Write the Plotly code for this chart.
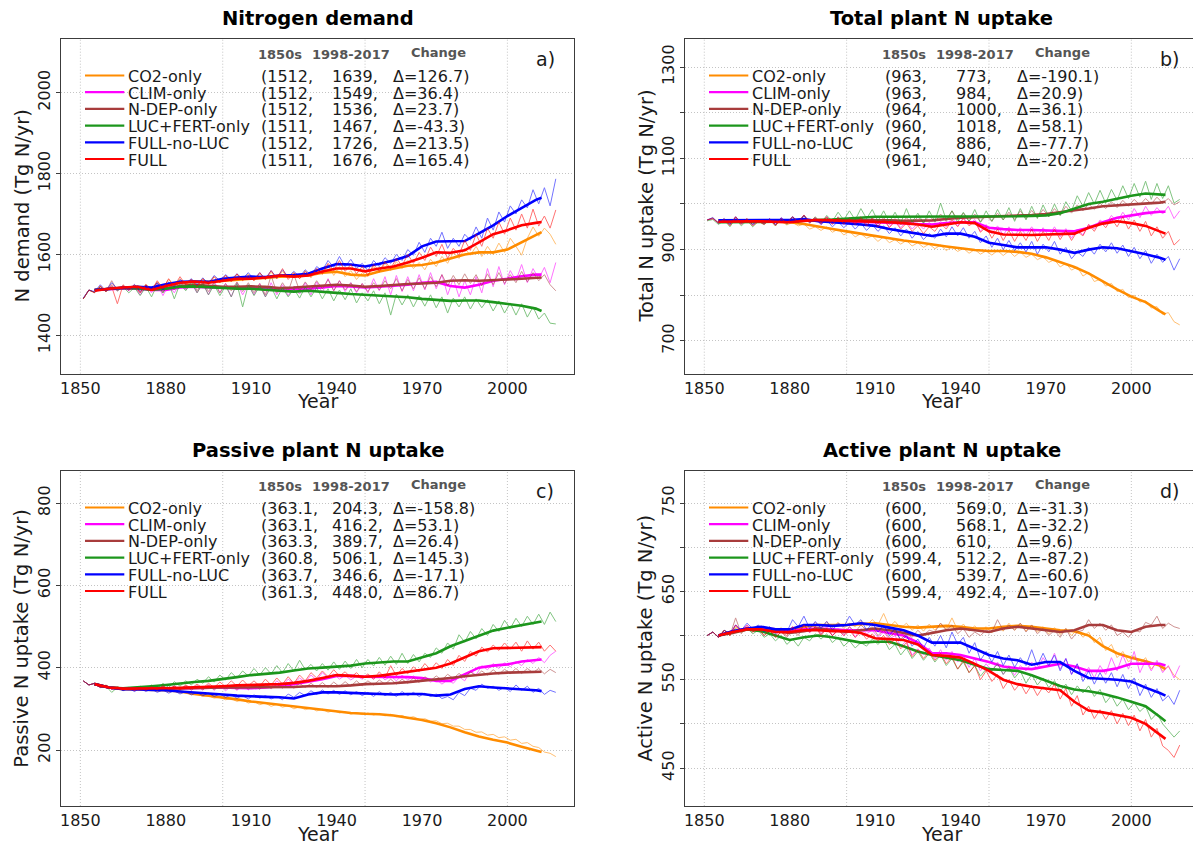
import plotly.graph_objects as go

# ---------------- data ----------------
SERIES = ["CO2-only", "CLIM-only", "N-DEP-only", "LUC+FERT-only", "FULL-no-LUC", "FULL"]
COLORS = ["#ff8c00", "#ff00ff", "#a83c3c", "#1c961c", "#0000ff", "#ff0000"]

THIN_YEARS = list(range(1851, 2018, 2))
SMOOTH_YEARS = list(range(1855, 2011, 5)) + [2012]
X_TICKS = [1850, 1880, 1910, 1940, 1970, 2000]
GRID_YEARS = [1850, 1900, 1950, 2000]

TITLES = ["Nitrogen demand", "Total plant N uptake", "Passive plant N uptake", "Active plant N uptake"]
YTITLES = ["N demand (Tg N/yr)", "Total N uptake (Tg N/yr)", "Passive N uptake (Tg N/yr)", "Active N uptake (Tg N/yr)"]
LABELS = ["a)", "b)", "c)", "d)"]
HEADERS = ["1850s", "1998-2017", "Change"]

# legend table values
a_1850s = ["1512", "1512", "1512", "1511", "1512", "1511"]
a_recent = ["1639", "1549", "1536", "1467", "1726", "1676"]
a_change = ["126.7", "36.4", "23.7", "-43.3", "213.5", "165.4"]
b_1850s = ["963", "963", "964", "960", "964", "961"]
b_recent = ["773", "984", "1000", "1018", "886", "940"]
b_change = ["-190.1", "20.9", "36.1", "58.1", "-77.7", "-20.2"]
c_1850s = ["363.1", "363.1", "363.3", "360.8", "363.7", "361.3"]
c_recent = ["204.3", "416.2", "389.7", "506.1", "346.6", "448.0"]
c_change = ["-158.8", "53.1", "26.4", "145.3", "-17.1", "86.7"]
d_1850s = ["600", "600", "600", "599.4", "600", "599.4"]
d_recent = ["569.0", "568.1", "610", "512.2", "539.7", "492.4"]
d_change = ["-31.3", "-32.2", "9.6", "-87.2", "-60.6", "-107.0"]

# ----- panel a: nitrogen demand -----
a_co2_thin = [1490,1512,1506,1522,1510,1526,1514,1522,1512,1525,
              1508,1526,1515,1532,1518,1538,1522,1540,1525,1538,
              1522,1540,1528,1545,1530,1548,1535,1550,1536,1552,
              1535,1552,1538,1556,1540,1558,1542,1555,1540,1560,
              1542,1565,1550,1575,1548,1570,1545,1560,1538,1555,
              1545,1570,1555,1578,1560,1582,1565,1585,1565,1580,
              1562,1588,1570,1595,1578,1605,1590,1615,1598,1620,
              1595,1620,1600,1628,1605,1640,1620,1598,1640,1668,
              1645,1665,1650,1625]
a_clim_thin = [1490,1512,1506,1520,1508,1524,1510,1520,1510,1522,
               1500,1522,1505,1528,1498,1525,1505,1530,1512,1528,
               1505,1530,1500,1535,1505,1528,1495,1530,1500,1525,
               1500,1528,1495,1530,1500,1525,1498,1522,1502,1530,
               1500,1532,1505,1540,1510,1535,1508,1530,1505,1528,
               1505,1540,1510,1545,1500,1548,1508,1545,1510,1550,
               1512,1555,1515,1550,1500,1540,1495,1535,1500,1545,
               1505,1565,1520,1570,1525,1560,1535,1575,1530,1565,
               1540,1568,1530,1580]
a_ndep_thin = [1490,1512,1506,1520,1508,1535,1510,1522,1512,1520,
               1505,1525,1510,1530,1505,1528,1512,1535,1515,1538,
               1510,1532,1508,1530,1505,1528,1510,1532,1508,1530,
               1505,1528,1500,1548,1505,1530,1508,1550,1510,1532,
               1512,1535,1515,1538,1510,1535,1512,1530,1508,1528,
               1508,1530,1512,1535,1515,1540,1510,1538,1515,1542,
               1515,1545,1520,1550,1522,1548,1525,1552,1528,1550,
               1522,1552,1525,1555,1528,1550,1530,1558,1532,1555,
               1535,1550,1525,1510]
a_luc_thin = [1490,1512,1506,1520,1508,1522,1510,1520,1505,1518,
              1498,1520,1495,1525,1505,1530,1490,1528,1510,1532,
              1505,1528,1500,1525,1498,1522,1495,1528,1470,1525,
              1498,1522,1495,1520,1490,1518,1495,1515,1492,1520,
              1495,1518,1490,1515,1485,1512,1488,1515,1480,1505,
              1485,1510,1478,1505,1450,1502,1475,1500,1470,1498,
              1472,1500,1468,1495,1455,1492,1470,1495,1465,1490,
              1468,1488,1460,1485,1455,1480,1450,1478,1445,1470,
              1440,1455,1430,1428]
a_fnl_thin = [1492,1512,1508,1525,1510,1530,1515,1522,1512,1526,
              1508,1524,1515,1530,1512,1532,1520,1538,1528,1540,
              1525,1542,1528,1548,1535,1550,1538,1552,1540,1555,
              1538,1555,1540,1560,1542,1562,1545,1558,1545,1562,
              1548,1570,1560,1585,1568,1595,1570,1588,1565,1578,
              1560,1585,1570,1592,1578,1600,1585,1612,1598,1630,
              1605,1640,1620,1655,1615,1640,1620,1650,1635,1668,
              1640,1690,1660,1705,1680,1720,1700,1735,1715,1760,
              1725,1765,1720,1787]
a_full_thin = [1490,1512,1505,1522,1508,1520,1478,1525,1512,1524,
               1505,1525,1510,1535,1515,1540,1522,1545,1525,1538,
               1520,1540,1525,1545,1530,1548,1532,1552,1535,1548,
               1535,1555,1538,1560,1540,1565,1538,1555,1540,1558,
               1545,1565,1552,1578,1560,1585,1558,1575,1552,1570,
               1548,1575,1558,1582,1565,1590,1572,1600,1578,1605,
               1585,1618,1595,1625,1590,1615,1598,1635,1610,1650,
               1620,1665,1640,1680,1650,1690,1660,1700,1665,1712,
               1670,1695,1665,1710]
a_co2_smooth = [1512,1515,1518,1520,1515,1524,1530,1532,1532,1535,1538,1540,1542,1545,1546,1548,1555,
                1557,1550,1548,1558,1565,1572,1574,1580,1590,1600,1605,1605,1612,1630,1648,1655]
a_clim_smooth = [1512,1514,1516,1515,1512,1512,1518,1520,1518,1518,1517,1518,1516,1515,1514,1515,1518,
                 1522,1521,1518,1520,1522,1525,1530,1532,1522,1518,1525,1535,1540,1546,1550,1550]
a_ndep_smooth = [1512,1515,1518,1517,1514,1516,1522,1525,1523,1520,1520,1521,1520,1517,1518,1520,1523,
                 1525,1523,1520,1522,1525,1527,1528,1530,1535,1536,1535,1536,1538,1540,1542,1543]
a_luc_smooth = [1512,1515,1517,1516,1513,1515,1520,1521,1519,1516,1515,1515,1513,1510,1508,1510,1508,
                1505,1502,1500,1498,1495,1494,1490,1487,1485,1486,1486,1482,1477,1473,1466,1460]
a_fnl_smooth = [1512,1515,1518,1520,1518,1526,1532,1533,1532,1540,1543,1545,1544,1548,1549,1552,1565,
                1576,1575,1570,1577,1585,1596,1620,1632,1632,1633,1652,1672,1695,1715,1735,1740]
a_full_smooth = [1510,1515,1518,1520,1512,1522,1530,1533,1530,1535,1540,1540,1543,1548,1545,1548,1558,
                 1565,1565,1558,1565,1570,1580,1592,1605,1604,1610,1630,1650,1660,1672,1678,1680]

# ----- panel b: total plant N uptake -----
b_co2_thin = [965,968,960,966,958,965,960,964,958,963,
              957,963,955,962,954,960,952,956,945,950,
              942,950,938,945,932,940,928,935,925,930,
              918,928,915,922,912,920,908,915,905,912,
              902,910,898,906,896,903,892,900,890,897,
              888,898,887,897,885,895,883,890,878,884,
              872,878,862,870,855,862,842,850,830,835,
              820,826,808,813,795,800,785,788,772,775,
              758,762,742,735]
b_clim_thin = [965,968,958,966,955,970,956,966,955,964,
               956,968,955,970,958,972,960,975,958,970,
               955,972,956,970,955,968,956,970,952,968,
               952,966,950,964,948,962,945,958,945,960,
               948,962,950,970,952,970,955,966,940,955,
               935,952,932,950,930,948,932,950,930,948,
               930,950,928,946,925,945,932,955,945,965,
               955,975,960,982,965,990,970,995,975,992,
               978,995,968,985]
b_ndep_thin = [965,970,958,968,955,972,958,968,955,965,
               957,967,955,968,957,970,960,974,958,968,
               956,970,958,972,958,970,960,972,958,970,
               956,970,955,968,954,970,956,972,958,975,
               960,978,962,985,965,980,962,978,960,975,
               962,980,965,982,966,985,968,986,970,988,
               972,990,975,995,980,998,985,1000,988,1002,
               990,1005,992,1008,995,1010,998,1012,1000,1015,
               1002,1012,998,1005]
b_luc_thin = [963,966,955,965,950,968,952,964,950,962,
              955,966,952,968,955,972,958,975,960,972,
              958,975,962,982,965,985,965,990,968,988,
              962,985,960,982,958,990,960,980,958,985,
              962,1002,965,985,960,982,962,988,960,985,
              962,988,965,992,962,990,965,995,968,998,
              972,1000,975,1005,985,1018,995,1025,1000,1030,
              1002,1032,1008,1040,1012,1045,1015,1050,1010,1045,
              1012,1040,1002,1010]
b_fnl_thin = [965,970,958,968,955,972,958,966,955,965,
              958,968,955,970,960,972,962,975,960,968,
              955,965,950,962,948,960,945,958,942,955,
              940,952,935,948,930,945,925,940,922,935,
              925,945,928,950,930,948,925,940,915,930,
              905,925,900,920,898,915,895,918,890,912,
              895,918,890,905,880,895,885,905,890,912,
              895,915,892,910,885,905,880,898,870,890,
              872,885,855,880]
b_full_thin = [965,968,958,966,952,972,955,968,952,962,
               955,966,952,968,958,972,960,976,962,970,
               958,972,955,970,956,968,955,970,952,968,
               950,966,948,962,945,958,940,952,935,950,
               940,958,945,965,950,968,952,962,938,950,
               925,945,920,942,918,940,920,945,918,940,
               920,945,922,942,920,940,930,955,940,962,
               948,968,950,972,945,965,940,962,930,950,
               925,940,910,922]
b_co2_smooth = [963,963,962,962,961,960,956,950,945,940,935,929,925,920,916,911,907,
                903,899,897,897,895,891,883,873,862,848,830,813,797,785,765,758]
b_clim_smooth = [963,963,963,963,962,963,965,964,963,963,962,960,959,958,956,955,958,
                 960,960,948,945,943,943,942,940,940,948,960,970,975,980,983,983]
b_ndep_smooth = [964,964,964,963,962,962,964,965,965,965,965,965,964,963,963,964,967,
                 970,971,972,973,975,976,978,982,985,990,995,997,998,1000,1003,1005]
b_luc_smooth = [960,960,960,960,961,962,964,965,966,968,970,972,972,972,973,973,973,
                973,973,973,973,973,974,975,980,990,1000,1005,1012,1018,1023,1022,1020]
b_fnl_smooth = [964,964,964,964,964,965,967,962,960,958,955,952,945,940,935,930,935,
                935,928,915,910,905,905,905,900,893,900,905,903,897,890,882,878]
b_full_smooth = [961,962,962,962,961,960,963,965,964,963,962,962,960,958,955,950,955,
                 960,958,940,933,932,932,933,934,935,948,957,962,958,952,940,935]

# ----- panel c: passive plant N uptake -----
c_co2_thin = [368,358,362,354,358,350,354,348,352,346,
              350,344,348,342,346,340,343,338,340,334,
              336,330,332,326,328,322,325,318,322,314,
              318,310,314,306,311,304,308,300,305,298,
              302,295,299,292,296,290,293,287,291,286,
              290,285,289,283,287,281,284,278,281,274,
              276,270,271,264,265,258,258,250,250,243,
              244,236,238,230,232,224,226,216,218,209,
              206,195,192,184]
c_clim_thin = [368,358,362,352,356,348,352,345,350,344,
               352,344,354,345,355,346,356,346,355,345,
               356,346,358,345,356,344,355,345,356,346,
               358,348,362,352,368,356,372,362,375,365,
               382,370,388,375,385,372,382,370,380,372,
               382,372,385,370,380,368,382,370,380,368,
               375,365,372,360,370,362,378,368,392,382,
               405,395,410,398,412,402,415,405,420,410,
               425,412,430,440]
c_ndep_thin = [368,358,362,352,356,348,352,345,350,344,
               354,344,355,345,356,346,355,346,356,346,
               356,346,357,347,358,348,357,347,358,348,
               358,348,360,349,360,350,362,350,362,352,
               362,352,364,352,365,354,366,355,368,356,
               368,358,370,360,372,360,372,362,375,364,
               378,368,380,370,384,374,386,376,390,380,
               392,382,395,384,396,386,398,386,398,388,
               398,385,396,388]
c_luc_thin = [368,358,362,352,355,340,352,345,352,348,
              355,348,358,350,362,352,366,355,368,358,
              372,362,378,365,382,370,388,375,392,380,
              398,382,400,385,405,388,410,392,418,395,
              408,392,410,394,414,396,416,398,420,400,
              420,404,425,406,428,408,435,410,432,414,
              435,425,448,435,460,445,480,462,488,470,
              495,478,505,488,515,495,520,500,525,505,
              530,505,535,512]
c_fnl_thin = [368,358,362,352,356,348,352,344,350,342,
              350,342,348,340,346,338,344,336,342,334,
              340,332,338,330,336,328,334,326,332,324,
              334,326,332,324,330,322,336,328,340,332,
              344,335,346,336,345,335,344,334,342,332,
              340,330,342,332,340,330,342,332,340,330,
              338,330,336,325,330,322,340,332,350,345,
              360,350,355,345,352,342,358,345,355,340,
              350,335,345,340]
c_full_thin = [368,358,362,352,356,348,352,346,350,345,
               352,345,354,346,356,348,355,347,358,350,
               360,350,362,352,365,354,368,355,370,356,
               368,355,372,358,375,360,378,362,382,368,
               388,375,392,378,395,380,390,376,388,374,
               385,372,390,375,405,380,398,385,402,390,
               410,395,412,398,420,405,430,415,440,428,
               450,438,455,442,460,445,462,440,465,445,
               462,440,455,440]
c_co2_smooth = [360,352,348,347,346,345,342,336,332,328,323,318,314,310,306,302,297,
                293,290,288,287,284,279,273,265,255,243,233,225,218,208,199,195]
c_clim_smooth = [360,352,349,348,348,349,350,350,351,352,351,350,352,355,360,366,372,
                 380,380,378,378,378,377,375,368,368,385,400,405,408,415,418,420]
c_ndep_smooth = [360,352,349,348,348,349,350,350,351,352,352,352,352,352,353,355,355,
                 355,357,360,361,362,365,368,372,375,379,383,386,388,389,390,390]
c_luc_smooth = [360,352,350,352,355,358,362,365,368,372,377,382,385,388,393,398,400,
                402,405,410,412,415,415,425,435,452,465,478,490,497,503,510,512]
c_fnl_smooth = [360,352,348,348,346,345,342,340,337,335,332,330,329,328,325,335,340,
                340,339,338,336,335,336,336,332,335,348,355,352,350,347,345,343]
c_full_smooth = [360,352,349,349,350,350,351,352,354,355,357,358,359,360,363,368,375,
                 382,380,378,380,385,390,395,400,410,425,440,447,448,448,450,450]

# ----- panel d: active plant N uptake -----
d_co2_thin = [600,604,598,606,600,610,604,612,605,611,
              604,610,603,609,602,608,604,612,606,615,
              608,616,609,615,608,614,610,617,611,618,
              612,625,610,616,608,614,606,612,605,613,
              606,614,607,620,606,613,605,611,604,610,
              603,610,605,614,606,614,605,612,604,610,
              602,609,601,608,600,607,598,604,592,598,
              583,590,575,582,570,577,568,575,562,570,
              560,565,555,550]
d_clim_thin = [600,604,598,606,602,612,605,612,606,610,
               603,609,600,608,602,610,604,612,603,610,
               602,610,600,608,600,610,598,608,602,606,
               598,604,596,600,588,594,578,585,578,586,
               574,584,572,582,570,578,564,574,560,568,
               560,570,556,566,555,566,560,570,562,575,
               565,580,562,574,556,568,552,564,552,566,
               556,575,560,578,562,582,558,572,560,572,
               558,566,552,566]
d_ndep_thin = [600,604,598,606,600,620,602,610,604,608,
               600,606,598,604,598,606,600,612,604,610,
               602,608,600,606,602,610,604,612,606,610,
               600,606,598,604,596,602,598,606,600,606,
               604,614,606,612,602,608,598,604,600,606,
               604,618,606,612,606,614,604,612,602,608,
               600,606,598,608,596,604,606,618,608,614,
               606,612,600,604,598,606,604,615,612,622,
               608,614,610,608]
d_luc_thin = [600,604,598,606,602,608,604,609,602,606,
              598,602,594,600,590,596,588,598,594,602,
              596,602,592,598,588,594,586,592,588,596,
              590,596,584,590,578,586,574,582,572,580,
              570,578,566,574,562,570,558,566,554,562,
              560,568,556,564,552,560,546,556,544,552,
              541,549,537,545,533,543,535,543,531,539,
              524,532,520,528,516,524,514,520,505,512,
              500,492,485,492]
d_fnl_thin = [600,604,598,606,602,612,606,614,608,612,
              604,610,602,608,604,618,610,622,608,616,
              608,616,606,614,610,622,612,618,606,614,
              604,612,600,608,594,600,588,596,586,598,
              588,600,586,604,590,598,580,592,572,582,
              570,582,566,578,564,575,566,584,566,580,
              566,578,560,574,556,568,548,560,545,558,
              546,558,542,556,540,552,532,545,530,540,
              526,532,522,538]
d_full_thin = [600,604,598,606,600,612,604,610,604,608,
               600,606,598,604,600,610,604,612,604,610,
               600,608,600,606,600,606,598,604,596,602,
               594,600,590,596,585,592,576,584,574,582,
               572,580,568,576,562,572,558,566,550,560,
               548,556,540,550,538,546,534,544,532,542,
               535,545,528,540,520,532,510,520,506,516,
               505,515,500,512,498,510,492,505,485,495,
               475,470,462,476]
d_co2_smooth = [600,605,608,608,607,606,610,612,612,612,613,614,612,610,609,610,611,
                610,608,608,610,611,610,608,606,605,600,588,580,575,571,566,562]
d_clim_smooth = [600,605,608,608,607,605,607,608,607,606,606,606,603,600,592,580,580,
                 578,574,570,565,563,562,565,568,565,560,560,563,568,568,568,566]
d_ndep_smooth = [600,603,607,606,605,603,605,608,606,604,606,608,606,603,600,603,606,
                 608,606,604,608,610,608,606,604,606,612,612,606,604,610,612,612]
d_luc_smooth = [600,604,607,605,600,595,598,600,598,595,592,593,593,588,582,578,575,
                572,567,562,561,560,555,549,543,539,537,534,530,525,520,508,503]
d_fnl_smooth = [600,605,608,610,607,607,612,612,611,612,614,612,609,606,600,592,592,
                592,585,578,574,572,567,570,570,560,552,551,550,548,541,535,532]
d_full_smooth = [600,604,607,607,604,604,606,606,605,605,603,597,596,595,590,578,577,
                 575,568,560,550,545,542,540,538,525,515,513,510,507,500,488,483]

# ---------------- layout helpers ----------------
W, H = 1193, 841
FONT = "DejaVu Sans"


def px(xp):
    return xp / W


def py(yp):
    return 1 - yp / H


# panel geometry in pixels: left, right(full, may exceed canvas), top, bottom
PANELS = [
    dict(ax="", L=61.3, R=574.3, T=39.3, B=373.7, xr=[1843.3, 2023.5], yr=[1305, 2132],
         yt=[1400, 1600, 1800, 2000], ytt=["1400", "1600", "1800", "2000"],
         thin=[a_co2_thin, a_clim_thin, a_ndep_thin, a_luc_thin, a_fnl_thin, a_full_thin],
         smooth=[a_co2_smooth, a_clim_smooth, a_ndep_smooth, a_luc_smooth, a_fnl_smooth, a_full_smooth],
         tab=[a_1850s, a_recent, a_change], box=True),
    dict(ax="2", L=685.3, R=1198.3, T=39.3, B=373.7, xr=[1843.33, 2021.66], yr=[628, 1361],
         yt=[700, 800, 900, 1000, 1100, 1200, 1300], ytt=["700", "", "900", "", "1100", "", "1300"],
         thin=[b_co2_thin, b_clim_thin, b_ndep_thin, b_luc_thin, b_fnl_thin, b_full_thin],
         smooth=[b_co2_smooth, b_clim_smooth, b_ndep_smooth, b_luc_smooth, b_fnl_smooth, b_full_smooth],
         tab=[b_1850s, b_recent, b_change], box=False),
    dict(ax="3", L=61.3, R=574.3, T=471.3, B=806.0, xr=[1843.3, 2023.5], yr=[64, 877],
         yt=[200, 400, 600, 800], ytt=["200", "400", "600", "800"],
         thin=[c_co2_thin, c_clim_thin, c_ndep_thin, c_luc_thin, c_fnl_thin, c_full_thin],
         smooth=[c_co2_smooth, c_clim_smooth, c_ndep_smooth, c_luc_smooth, c_fnl_smooth, c_full_smooth],
         tab=[c_1850s, c_recent, c_change], box=True),
    dict(ax="4", L=685.3, R=1198.3, T=471.3, B=806.0, xr=[1843.33, 2021.66], yr=[407, 786],
         yt=[450, 500, 550, 600, 650, 700, 750], ytt=["450", "", "550", "", "650", "", "750"],
         thin=[d_co2_thin, d_clim_thin, d_ndep_thin, d_luc_thin, d_fnl_thin, d_full_thin],
         smooth=[d_co2_smooth, d_clim_smooth, d_ndep_smooth, d_luc_smooth, d_fnl_smooth, d_full_smooth],
         tab=[d_1850s, d_recent, d_change], box=False),
]

fig = go.Figure()
layout = dict(
    width=W, height=H, margin=dict(l=0, r=0, t=0, b=0),
    paper_bgcolor="white", plot_bgcolor="white", showlegend=False,
    font=dict(family=FONT, color="#1a1a1a"),
)
shapes = []
annotations = []

AXIS_COLOR = "#3c3c3c"
GRID_COLOR = "#c4c4c4"
GRID_DASH = "1px,2px"

for p_i, p in enumerate(PANELS):
    xa = "x" + p["ax"]
    ya = "y" + p["ax"]
    # traces
    for s_i in range(len(SERIES)):
        fig.add_trace(go.Scatter(
            x=THIN_YEARS, y=p["thin"][s_i], mode="lines", xaxis=xa, yaxis=ya,
            line=dict(color=COLORS[s_i], width=1), opacity=0.55, hoverinfo="skip"))
        fig.add_trace(go.Scatter(
            x=SMOOTH_YEARS, y=p["smooth"][s_i], mode="lines", xaxis=xa, yaxis=ya,
            line=dict(color=COLORS[s_i], width=2.6), name=SERIES[s_i]))

    xdom = [px(p["L"]), min(1.0, px(p["R"]))]
    ydom = [py(p["B"]), py(p["T"])]
    layout["xaxis" + p["ax"]] = dict(
        domain=xdom, range=p["xr"], anchor=ya, tickvals=X_TICKS,
        ticks="", showgrid=False, zeroline=False,
        showline=True, linecolor=AXIS_COLOR, linewidth=1.2, mirror=True,
        tickfont=dict(size=16, family=FONT, color="#1a1a1a"), fixedrange=True)
    layout["yaxis" + p["ax"]] = dict(
        domain=ydom, range=p["yr"], anchor=xa, tickvals=p["yt"], ticktext=p["ytt"],
        ticks="outside", ticklen=4, tickcolor=AXIS_COLOR, tickangle=-90,
        showgrid=True, gridcolor=GRID_COLOR, griddash=GRID_DASH, gridwidth=1, zeroline=False,
        showline=True, linecolor=AXIS_COLOR, linewidth=1.2, mirror=p["box"],
        tickfont=dict(size=16, family=FONT, color="#1a1a1a"), fixedrange=True)

    for gy in GRID_YEARS:
        shapes.append(dict(type="line", xref=xa, yref=ya + " domain", x0=gy, x1=gy, y0=0, y1=1,
                           line=dict(color=GRID_COLOR, width=1, dash=GRID_DASH), layer="below"))

    L, R, T, B = p["L"], p["R"], p["T"], p["B"]
    cx = (L + R) / 2
    # title
    annotations.append(dict(text="<b>" + TITLES[p_i] + "</b>", x=px(cx), y=py(T - 21),
                            xref="paper", yref="paper", xanchor="center", yanchor="middle",
                            showarrow=False, font=dict(size=19.5, family=FONT, color="black")))
    # y title
    annotations.append(dict(text=YTITLES[p_i], x=px(L - 39.3), y=py((T + B) / 2),
                            xref="paper", yref="paper", xanchor="center", yanchor="middle",
                            textangle=-90, showarrow=False,
                            font=dict(size=19.5, family=FONT, color="#1a1a1a")))
    # x title
    annotations.append(dict(text="Year", x=px(cx), y=py(B + 27.5), borderpad=0,
                            xref="paper", yref="paper", xanchor="center", yanchor="middle",
                            showarrow=False, font=dict(size=19, family=FONT, color="#1a1a1a")))
    # panel label
    annotations.append(dict(text=LABELS[p_i], x=px(L + 484), y=py(T + 20),
                            xref="paper", yref="paper", xanchor="center", yanchor="middle",
                            showarrow=False, font=dict(size=19, family=FONT, color="#1a1a1a")))
    # header
    for h_txt, h_dx, h_dy in zip(HEADERS, [194.7, 248.7, 347.7], [15, 15, 13.3]):
        annotations.append(dict(text="<b>" + h_txt + "</b>", x=px(L + h_dx), y=py(T + h_dy),
                                xref="paper", yref="paper", xanchor="left", yanchor="middle",
                                showarrow=False, font=dict(size=13, family=FONT, color="#555555")))
    # legend rows
    c1, c2, c3 = p["tab"]
    for s_i in range(len(SERIES)):
        ty = T + 37.2 + 16.7 * s_i
        shapes.append(dict(type="line", xref="paper", yref="paper",
                           x0=px(L + 23.7), x1=px(L + 63), y0=py(ty - 1), y1=py(ty - 1),
                           line=dict(color=COLORS[s_i], width=2.2)))
        row = [(SERIES[s_i], 66), ("(" + c1[s_i] + ",", 198.4),
               (c2[s_i] + ",", 269.4), ("\u0394=" + c3[s_i] + ")", 331)]
        for txt, dx in row:
            annotations.append(dict(text=txt, x=px(L + dx), y=py(ty), borderpad=0,
                                    xref="paper", yref="paper", xanchor="left", yanchor="middle",
                                    showarrow=False, font=dict(size=16, family=FONT, color="#1a1a1a")))

layout["shapes"] = shapes
layout["annotations"] = annotations
fig.update_layout(**layout)
fig.write_html("out.html")
